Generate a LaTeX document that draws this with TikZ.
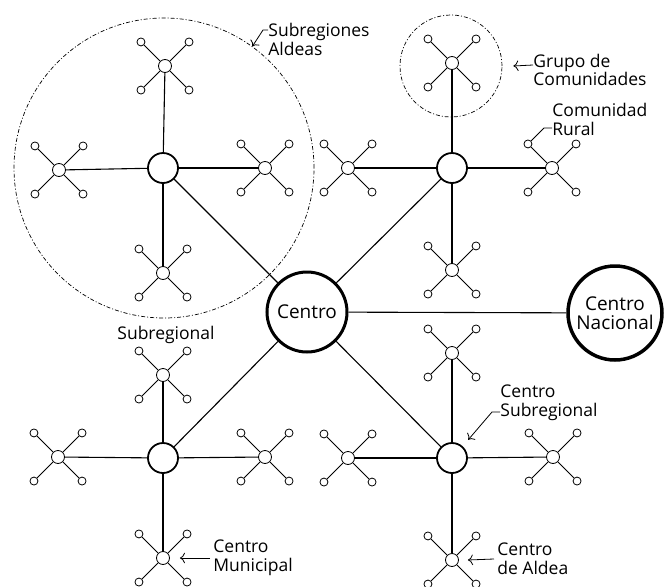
\documentclass[tikz,border=0pt]{standalone}
\usepackage{fontspec}
\setmainfont{Open Sans}
\usetikzlibrary{arrows.meta}

\begin{document}
\begin{tikzpicture}[x=1pt, y=-1pt, line width=0.8pt,
  sat/.style={draw, circle, inner sep=0pt, minimum size=8pt},
  aldea/.style={draw, circle, inner sep=0pt, minimum size=13pt},
  subreg/.style={draw, circle, inner sep=0pt, minimum size=30pt, line width=1.8pt},
  centro/.style={draw, circle, inner sep=0pt, align=center, line width=3pt,
    font=\fontsize{19}{19}\selectfont},
  region/.style={draw, circle, inner sep=0pt, line width=0.7pt,
    dash pattern=on 4pt off 2pt on 1pt off 2pt},
  lbl/.style={anchor=west, align=left, inner sep=0pt,
    font=\fontsize{17.5}{19}\selectfont},
  link/.style={line width=1.1pt}]

\def \d {34} % distance of the satellites

\useasboundingbox (0,0) rectangle (665,587);

% dashed regions
\node[region, minimum size=300pt] (aldeas) at (164,168) {};
\node[region, minimum size=102pt] (grupo) at (451,66) {};

\node[centro, minimum size=80pt] (centro) at (307,312) {Centro};
\node[centro, minimum size=94pt, line width=3.5pt] (nacional) at (615,313) {Centro\\Nacional};
\draw[link] (centro) -- (nacional);

\foreach \s/\x/\y in {nw/163/168, ne/452/168, sw/163/458, se/452/458}
{
  \node[subreg] (\s) at (\x,\y) {};
  \draw[link] (centro) -- (\s);
}

\foreach \v/\s/\x/\y in {nw-n/nw/165/66, nw-w/nw/59/170, nw-e/nw/265/168, nw-s/nw/163/273,
  ne-n/ne/452/63, ne-w/ne/348/168, ne-e/ne/552/168, ne-s/ne/452/270,
  sw-n/sw/163/375, sw-w/sw/58/457, sw-e/sw/265/457, sw-s/sw/163/558,
  se-n/se/452/353, se-w/se/348/458, se-e/se/553/457, se-s/se/452/560}
{
  \node[aldea] (\v) at (\x,\y) {};
  \draw[link] (\s) -- (\v);
  \foreach \a in {45,135,225,315}
  {
    \path (\v) ++(\a:\d pt) node[sat] (\v-\a) {};
    \draw (\v) -- (\v-\a);
  }
}

% labels
\node[lbl] (subrlbl) at (268,39) {Subregiones\\Aldeas};
\draw[->, >={To[scale=1.5]}] ([yshift=9pt]subrlbl.west) -- ++(-5,0) -- (aldeas.54);

\node[lbl, font=\fontsize{17.5}{15}\selectfont] (grupolbl) at (533,70) {Grupo de\\Comunidades};
\draw[->, >={To[scale=1.5]}] ([yshift=5pt]grupolbl.west) -- ([xshift=11pt]grupo.east);

\node[lbl] (rurlbl) at (552,119) {Comunidad\\Rural};
\draw ([yshift=-9pt]rurlbl.west) -- ++(-8,0) -- (ne-e-135);

\node[lbl, anchor=center] (subreglbl) at (166,335) {Subregional};

\node[lbl] (cslbl) at (500,403) {Centro\\Subregional};
\draw[->, >={To[scale=1.5]}] ([yshift=-9pt]cslbl.west) -- ++(-8,0) -- ([shift={(5pt,7pt)}]se.45);

\node[lbl] (munlbl) at (213,558) {Centro\\Municipal};
\draw[->, >={To[scale=1.5]}] ([xshift=-3pt]munlbl.west) -- ([xshift=10pt]sw-s.east);

\node[lbl] (aldealbl) at (497,559) {Centro\\de Aldea};
\draw[->, >={To[scale=1.5]}] ([xshift=-3pt]aldealbl.west) -- ([xshift=9pt]se-s.east);
\end{tikzpicture}
\end{document}
